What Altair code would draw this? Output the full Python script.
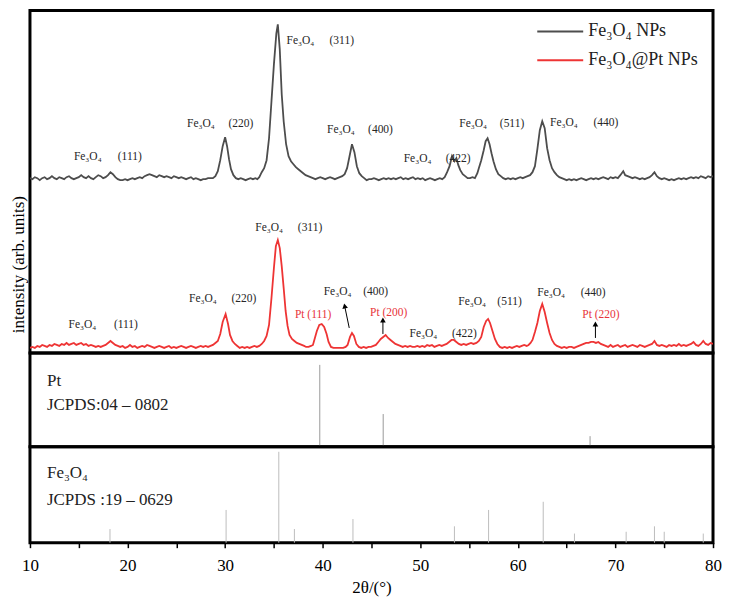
import altair as alt
import pandas as pd

# ---------------- data ----------------
SERIES = ["Fe₃O₄ NPs", "Fe₃O₄@Pt NPs"]
COLORS = ["#4d4d4d", "#ee3434"]

# (2θ, intensity, arb. units, stacked offset included)
fe3o4_np = [
    (10.0,178),(10.25,177),(10.5,179),(10.75,178),(11.0,176),(11.25,178),(11.5,179),(11.75,177),
    (12.0,178),(12.25,180),(12.5,178),(12.75,177),(13.0,179),(13.25,178),(13.5,177),(13.75,179),
    (14.0,180),(14.25,178),(14.5,177),(14.75,178),(15.0,179),(15.25,181),(15.5,179),(15.75,178),
    (16.0,180),(16.25,178),(16.5,177),(16.75,179),(17.0,181),(17.25,180),(17.5,178),(17.75,179),
    (18.0,181),(18.25,184),(18.5,182),(18.75,179),
    (19.0,177),(19.25,176),(19.5,176),(19.75,177),(20.0,176),(20.25,177),(20.5,178),(20.75,177),
    (21.0,178),(21.25,179),(21.5,178),(21.75,180),(22.0,181),(22.25,182),(22.5,181),
    (22.75,180),(23.0,179),(23.25,181),(23.5,180),(23.75,179),(24.0,180),(24.25,179),(24.5,178),
    (24.75,180),(25.0,179),(25.25,178),(25.5,179),(25.75,178),(26.0,177),(26.25,178),(26.5,179),
    (26.75,177),(27.0,178),(27.25,177),(27.5,176),(27.75,177),(28.0,177),(28.25,178),(28.5,178),
    (28.75,178),(29.0,180),(29.25,185),(29.5,196),(29.75,210),(30.0,219),(30.2,210),(30.4,197),
    (30.6,187),(30.85,181),(31.1,178),(31.35,177),
    (31.6,178),(31.85,177),(32.1,176),(32.35,177),(32.6,178),(32.85,177),(33.1,178),(33.3,177),
    (33.5,179),(33.75,184),(34.0,188),(34.25,196),(34.5,218),(34.75,255),(35.0,292),(35.25,323),
    (35.4,332),(35.6,307),(35.8,262),(36.0,235),(36.25,212),(36.5,200),(36.75,195),(37.0,192),
    (37.25,189),(37.5,187),(37.75,185),(38.0,183),(38.25,181),(38.5,180),(38.75,179),
    (39.0,178),(39.25,177),(39.5,178),(39.75,179),(40.0,178),(40.25,177),(40.5,178),(40.75,179),
    (41.0,178),(41.25,177),(41.5,178),(41.75,179),(42.0,180),
    (42.25,182),(42.5,188),(42.75,200),(43.0,212),(43.25,204),(43.5,190),(43.75,183),(44.0,180),
    (44.25,178),(44.5,176),(44.75,177),(45.0,177),(45.25,178),(45.5,177),(45.75,176),(46.0,177),
    (46.25,178),(46.5,177),(46.75,178),(47.0,177),(47.25,178),(47.5,177),(47.75,178),(48.0,179),
    (48.25,177),(48.5,178),(48.75,177),(49.0,178),(49.25,179),(49.5,177),(49.75,178),(50.0,177),
    (50.25,178),(50.5,176),(50.75,177),(51.0,178),(51.25,177),(51.5,176),(51.75,177),(52.0,178),
    (52.25,177),(52.5,179),
    (52.75,184),(53.0,190),(53.25,200),(53.5,195),(53.7,198),(53.9,191),(54.1,186),(54.35,182),
    (54.6,180),(54.85,178),(55.1,178),(55.35,179),(55.6,178),(55.85,183),
    (56.0,188),(56.25,196),(56.5,206),(56.7,215),(56.9,218),(57.1,212),(57.3,203),(57.5,195),
    (57.75,187),(58.0,182),(58.25,180),
    (58.5,178),(58.75,177),(59.0,178),(59.25,177),(59.5,178),(59.75,177),(60.0,178),(60.25,179),
    (60.5,178),(60.75,179),(61.0,180),(61.25,181),
    (61.5,184),(61.75,190),(62.0,207),(62.25,226),(62.5,235),(62.75,228),(63.0,208),(63.25,196),
    (63.5,188),(63.75,184),(64.0,181),
    (64.25,179),(64.5,178),(64.75,177),(65.0,176),(65.25,177),(65.5,176),(65.75,177),(66.0,176),
    (66.25,177),(66.5,178),(66.75,177),(67.0,176),(67.25,177),(67.5,178),(67.75,177),(68.0,178),
    (68.25,177),(68.5,178),(68.75,179),(69.0,178),(69.25,177),(69.5,179),(69.75,178),(70.0,179),
    (70.25,178),(70.5,181),(70.8,185),(71.0,181),(71.25,180),(71.5,179),(71.75,178),(72.0,179),
    (72.25,178),(72.5,177),(72.75,178),(73.0,177),(73.25,178),(73.5,179),(73.75,181),(74.0,184),
    (74.25,180),(74.5,178),(74.75,177),(75.0,178),(75.25,177),(75.5,176),(75.75,177),(76.0,176),
    (76.25,177),(76.5,178),(76.75,177),(77.0,178),(77.25,177),(77.5,178),(77.75,179),(78.0,178),
    (78.25,179),(78.5,178),(78.75,180),(79.0,179),(79.25,178),(79.5,180),(79.75,179),(80.0,180),
]

fe3o4_pt = [
    (10.0,8),(10.25,9),(10.5,8),(10.75,10),(11.0,9),(11.25,11),(11.5,10),(11.75,9),(12.0,11),
    (12.25,10),(12.5,12),(12.75,11),(13.0,10),(13.25,12),(13.5,11),(13.75,13),(14.0,11),(14.25,12),
    (14.5,13),(14.75,11),(15.0,12),(15.25,13),(15.5,11),(15.75,12),(16.0,10),(16.25,11),(16.5,10),
    (16.75,9),(17.0,10),(17.25,9),(17.5,10),(17.75,11),
    (18.0,13),(18.25,15),(18.5,13),(18.75,11),
    (19.0,10),(19.25,9),(19.5,10),(19.75,8),(20.0,9),(20.25,11),(20.5,9),(20.75,10),(21.0,8),
    (21.25,9),(21.5,10),(21.75,9),(22.0,11),(22.25,10),(22.5,9),(22.75,8),(23.0,9),(23.25,10),
    (23.5,9),(23.75,8),(24.0,9),(24.25,10),(24.5,8),(24.75,9),(25.0,8),(25.25,9),(25.5,10),
    (25.75,9),(26.0,8),(26.25,9),(26.5,10),(26.75,9),(27.0,8),(27.25,9),(27.5,10),(27.75,9),
    (28.0,10),(28.25,9),(28.5,10),
    (28.75,11),(29.0,13),(29.25,15),(29.5,22),(29.75,34),(30.05,42),(30.3,32),(30.5,21),(30.75,15),
    (31.0,12),(31.25,10),
    (31.5,8),(31.75,9),(32.0,8),(32.25,9),(32.5,8),(32.75,9),(33.0,10),(33.25,9),(33.5,10),
    (33.75,12),(34.0,15),(34.25,20),(34.5,31),(34.75,58),(35.0,88),(35.2,110),(35.4,116),(35.6,108),
    (35.8,90),(36.0,68),(36.2,45),(36.4,30),(36.6,21),(36.85,17),(37.1,15),(37.35,13),(37.6,12),
    (37.85,11),(38.1,10),
    (38.3,9),(38.55,9),(38.8,10),(39.0,11),(39.2,18),(39.4,25),(39.65,31),(39.9,32),(40.15,29),
    (40.4,22),(40.6,14),(40.85,9),(41.1,8),
    (41.35,8),(41.6,8),(41.85,8),(42.1,8),(42.35,9),(42.55,11),(42.8,19),(43.0,23),(43.2,20),
    (43.45,12),(43.7,9),
    (43.95,8),(44.2,9),(44.45,8),(44.7,9),(44.95,9),(45.2,10),(45.45,11),(45.7,14),(45.95,17),
    (46.2,19),(46.45,21),(46.7,18),(46.95,16),(47.2,14),(47.45,12),(47.7,11),
    (47.95,10),(48.2,9),(48.45,10),(48.7,9),(48.95,10),(49.2,9),(49.45,9),(49.7,10),(49.95,9),
    (50.2,10),(50.45,9),(50.7,11),(50.95,10),(51.2,11),(51.45,9),(51.7,10),(51.95,11),(52.2,10),
    (52.45,11),(52.7,12),
    (52.95,14),(53.2,16),(53.45,16),(53.7,14),(53.95,12),
    (54.2,11),(54.45,12),(54.7,11),(54.95,12),(55.2,13),(55.45,12),
    (55.75,13),(56.0,15),(56.25,19),(56.5,29),(56.75,35),(56.95,37),(57.15,33),(57.4,25),(57.65,17),
    (57.9,12),(58.15,9),
    (58.4,8),(58.65,9),(58.9,8),(59.15,9),(59.4,8),(59.65,9),(59.9,10),(60.15,9),(60.4,10),
    (60.65,11),(60.9,10),(61.1,11),
    (61.3,13),(61.5,16),(61.75,24),(62.0,33),(62.25,45),(62.5,52),(62.75,44),(63.0,33),(63.25,23),
    (63.5,16),(63.75,12),(64.0,10),
    (64.25,9),(64.5,8),(64.75,9),(65.0,8),(65.25,9),(65.5,9),(65.75,8),(66.0,9),(66.25,10),(66.5,11),
    (66.75,12),(67.0,13),(67.25,13),(67.5,14),(67.75,14),(68.0,13),(68.25,14),(68.5,12),(68.75,11),
    (69.0,10),
    (69.25,9),(69.5,11),(69.75,9),(70.0,10),(70.25,11),(70.5,9),(70.75,10),(71.0,11),(71.25,9),
    (71.5,10),(71.75,11),(72.0,10),(72.25,9),(72.5,11),(72.75,10),(73.0,9),(73.25,10),(73.5,11),
    (73.75,12),(74.0,15),(74.25,11),(74.5,10),(74.75,11),(75.0,10),(75.25,9),(75.5,11),(75.75,10),
    (76.0,11),(76.25,10),(76.5,12),(76.75,10),(77.0,11),(77.25,10),(77.5,11),(77.75,12),(78.0,14),
    (78.25,11),(78.5,10),(78.75,12),(79.0,15),(79.25,12),(79.5,11),(79.75,13),(80.0,12),
]

# reference stick patterns (relative intensity, %)
pt_ref_2theta = [39.7, 46.2, 67.4]
pt_ref_int = [100, 40, 13]
fe_ref_2theta = [18.2, 30.1, 35.5, 37.1, 43.1, 53.5, 57.0, 62.6, 65.8, 71.1, 74.0, 75.0, 79.0]
fe_ref_int = [15, 36, 100, 15, 26, 18, 36, 45, 10, 12, 18, 12, 10]

# peak annotations: (2θ, intensity, text)
FE = "Fe₃O₄"
annot_top = [
    (14.5, 199, FE), (19.0, 199, "(111)"),
    (26.1, 232, FE), (30.35, 232, "(220)"),
    (36.3, 315, FE), (40.7, 315, "(311)"),
    (40.45, 226, FE), (44.65, 226, "(400)"),
    (48.3, 197, FE), (52.6, 197, "(422)"),
    (54.0, 232, FE), (58.15, 232, "(511)"),
    (63.3, 233, FE), (67.75, 233, "(440)"),
    (13.95, 31, FE), (18.6, 31, "(111)"),
    (26.3, 57, FE), (30.65, 57, "(220)"),
    (33.1, 128, FE), (37.45, 128, "(311)"),
    (40.1, 64, FE), (44.15, 64, "(400)"),
    (48.9, 22, FE), (53.25, 22, "(422)"),
    (53.9, 54, FE), (57.9, 54, "(511)"),
    (62.0, 63, FE), (66.45, 63, "(440)"),
]
pt_labels = [(37.15, 41, "Pt (111)"), (44.85, 43, "Pt (200)"), (66.6, 41, "Pt (220)")]
# arrows: tail (2θ, I) -> head (2θ, I), head angle
arrows = [(42.72, 28, 42.25, 50, 348), (46.17, 22, 46.17, 36, 0), (67.95, 18, 67.95, 32, 0)]

# ---------------- chart ----------------
FONT = "Liberation Serif"
W = 684
xscale = alt.Scale(domain=[10, 80], nice=False, zero=False)
ytop = alt.Scale(domain=[3, 346], nice=False, zero=False)

curves = pd.concat([
    pd.DataFrame(fe3o4_np, columns=["two_theta", "intensity"]).assign(series=SERIES[0]),
    pd.DataFrame(fe3o4_pt, columns=["two_theta", "intensity"]).assign(series=SERIES[1]),
])

lines = alt.Chart(curves).mark_line(strokeWidth=1.8, clip=True).encode(
    x=alt.X("two_theta:Q", scale=xscale, axis=None),
    y=alt.Y("intensity:Q", scale=ytop, axis=alt.Axis(
        title="intensity (arb. units)", labels=False, ticks=False, domain=False, grid=False,
        titleFont=FONT, titleFontSize=17, titleFontWeight="normal", titleColor="black",
        titleAngle=270, titleX=-11, titleY=254, titleAlign="center", titleBaseline="middle")),
    color=alt.Color("series:N", scale=alt.Scale(domain=SERIES, range=COLORS), legend=None),
)

ann_df = pd.DataFrame(annot_top, columns=["x", "y", "t"])
ann = alt.Chart(ann_df).mark_text(align="left", baseline="middle", font=FONT, fontSize=11.5,
                                  color="#262626").encode(
    x=alt.X("x:Q", scale=xscale), y=alt.Y("y:Q", scale=ytop), text="t:N")

pt_df = pd.DataFrame(pt_labels, columns=["x", "y", "t"])
ptl = alt.Chart(pt_df).mark_text(align="left", baseline="middle", font=FONT, fontSize=11.5,
                                 color="#e8343a").encode(
    x=alt.X("x:Q", scale=xscale), y=alt.Y("y:Q", scale=ytop), text="t:N")

ar_df = pd.DataFrame(arrows, columns=["x", "y", "x2", "y2", "ang"])
ar_line = alt.Chart(ar_df).mark_rule(color="black", strokeWidth=1).encode(
    x=alt.X("x:Q", scale=xscale), y=alt.Y("y:Q", scale=ytop), x2="x2:Q", y2="y2:Q")
ar_head = alt.Chart(ar_df).mark_point(shape="triangle-up", filled=True, color="black",
                                      size=32, opacity=1).encode(
    x=alt.X("x2:Q", scale=xscale), y=alt.Y("y2:Q", scale=ytop),
    angle=alt.Angle("ang:Q", scale=None))

leg_layers = []
for i, (name, col) in enumerate(zip(SERIES, COLORS)):
    yy = 21 + i * 29
    leg_layers.append(alt.Chart(pd.DataFrame({"s": [name]})).mark_rule(color=col, strokeWidth=2).encode(
        x=alt.value(508), x2=alt.value(554), y=alt.value(yy)))
    leg_layers.append(alt.Chart(pd.DataFrame({"s": [name]})).mark_text(
        align="left", baseline="middle", font=FONT, fontSize=18, color="#222").encode(
        x=alt.value(559), y=alt.value(yy), text="s:N"))

top = alt.layer(lines, ann, ptl, ar_line, ar_head, *leg_layers).properties(width=W, height=343)

# Pt reference panel
ptref = pd.DataFrame({"two_theta": pt_ref_2theta, "rel": pt_ref_int})
mid = alt.layer(
    alt.Chart(ptref).mark_rule(color="#9a9a9a", strokeWidth=1).encode(
        x=alt.X("two_theta:Q", scale=xscale, axis=None),
        y=alt.Y("rel:Q", scale=alt.Scale(domain=[0, 114.6], nice=False), axis=None),
        y2=alt.datum(0)),
    alt.Chart(pd.DataFrame({"t": ["Pt"]})).mark_text(align="left", baseline="middle", font=FONT,
        fontSize=17, color="#222").encode(x=alt.value(17), y=alt.value(28), text="t:N"),
    alt.Chart(pd.DataFrame({"t": ["JCPDS:04 – 0802"]})).mark_text(align="left", baseline="middle",
        font=FONT, fontSize=17, color="#222").encode(x=alt.value(17), y=alt.value(52), text="t:N"),
).properties(width=W, height=94)

# Fe3O4 reference panel
feref = pd.DataFrame({"two_theta": fe_ref_2theta, "rel": fe_ref_int})
bot = alt.layer(
    alt.Chart(feref).mark_rule(color="#bdbdbd", strokeWidth=1).encode(
        x=alt.X("two_theta:Q", scale=xscale, axis=alt.Axis(
            values=list(range(10, 81, 5)),
            labelExpr="datum.value % 10 == 0 ? datum.label : ''",
            tickSize=5, tickWidth=1.5, tickColor="black", domain=False, grid=False,
            labelFont=FONT, labelFontSize=17, labelColor="black", labelPadding=10,
            labelFlush=False, labelOverlap=False,
            title="2θ/(°)", titleFont=FONT, titleFontSize=17, titleFontWeight="normal",
            titleColor="black", titlePadding=6)),
        y=alt.Y("rel:Q", scale=alt.Scale(domain=[0, 105.5], nice=False), axis=None),
        y2=alt.datum(0)),
    alt.Chart(pd.DataFrame({"t": [FE]})).mark_text(align="left", baseline="middle", font=FONT,
        fontSize=17, color="#222").encode(x=alt.value(17), y=alt.value(26), text="t:N"),
    alt.Chart(pd.DataFrame({"t": ["JCPDS :19 – 0629"]})).mark_text(align="left", baseline="middle",
        font=FONT, fontSize=17, color="#222").encode(x=alt.value(17), y=alt.value(53), text="t:N"),
).properties(width=W, height=96)

chart = alt.vconcat(top, mid, bot, spacing=0, bounds="flush").properties(
    padding={"left": 0, "top": 0, "right": 0, "bottom": 0}
).configure_view(stroke="black", strokeWidth=3)

chart.save("out.html", embed_options={"renderer": "svg", "actions": False})
